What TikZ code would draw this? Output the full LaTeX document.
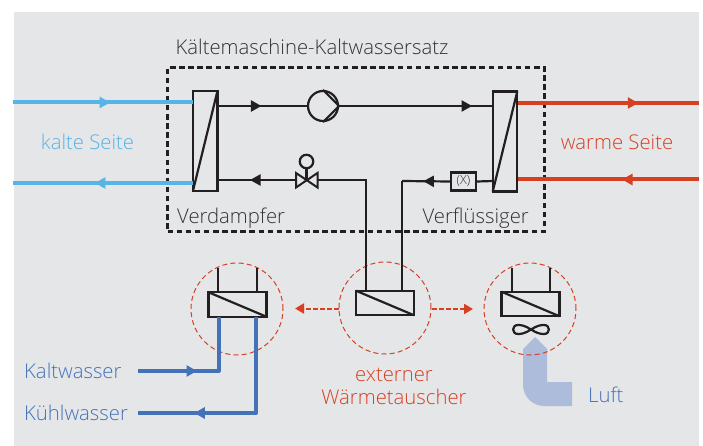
\documentclass[tikz,border=0pt]{standalone}
\usepackage{fontspec}
\setmainfont{Open Sans Light}
\usetikzlibrary{arrows.meta,decorations.markings,calc}
\definecolor{bgc}{HTML}{E5E6E8}
\definecolor{kalt}{HTML}{58B3E6}
\definecolor{warm}{HTML}{D63F22}
\definecolor{wasser}{HTML}{4472B8}
\definecolor{luft}{HTML}{AEBCDC}
\definecolor{ink}{HTML}{231F20}
\definecolor{txt}{HTML}{333333}
\tikzset{
  hx/.style={draw=ink,line width=2.3pt,inner sep=0pt,outer sep=0pt,rectangle},
  hxv/.style={hx,minimum width=24.5pt,minimum height=100pt},
  hxh/.style={hx,minimum width=58pt,minimum height=24.5pt},
  pipe/.style={draw=ink,line width=2.2pt},
  stub/.style={draw=ink,line width=2.2pt},
  diag/.style={draw=ink,line width=2.2pt},
  coldl/.style={draw=kalt,line width=4pt},
  hotl/.style={draw=warm,line width=4pt},
  waterl/.style={draw=wasser,line width=4pt,line join=round},
  redring/.style={circle,draw=warm,line width=1pt,dash pattern=on 5pt off 3.2pt,minimum size=92pt,inner sep=0pt},
  reda/.style={draw=warm,line width=2pt,dash pattern=on 5pt off 2pt},
  tipat/.style 2 args={postaction={decorate,decoration={markings,mark=at position #1pt with {\arrow[#2]{Triangle[length=10.5pt,width=11pt]}}}}},
  tipat/.default={0}{},
  lab/.style={inner sep=0pt,font=\fontsize{20.3}{22}\selectfont},
}
\begin{document}
\begin{tikzpicture}[x=1pt,y=-1pt]
\useasboundingbox (0,0) rectangle (703,446);
\fill[white] (0,0) rectangle (703,446);
\fill[bgc] (14,12) rectangle (699,446);

% air arrow
\fill[luft] (535,337) -- (547,349) -- (547,382) -- (572,382) -- (572,406) -- (544,406)
  .. controls (532,406) and (523,396) .. (523,385) -- (523,349) -- cycle;

% rings
\node[redring] (ringA) at (237,309) {};
\node[redring] (ringB) at (385,308) {};
\node[redring] (ringC) at (530,309) {};

% machine box
\node[draw=ink,line width=2.4pt,dash pattern=on 5.5pt off 3.6pt,minimum width=377pt,minimum height=164pt,inner sep=0pt] (machine) at (356,149.5) {};

% exchangers
\node[hxv] (evap) at (205.2,141) {};
\node[hxv] (cond) at (505,141.5) {};
\node[hxh] (hxA) at (237.5,304.5) {};
\node[hxh] (hxB) at (385,303) {};
\node[hxh] (hxC) at (530.5,304) {};
\draw[diag] (evap.north east) -- (evap.south west);
\draw[diag] (cond.north east) -- (cond.south west);
\draw[diag] (hxA.north west) -- (hxA.south east);
\draw[diag] (hxB.north west) -- (hxB.south east);
\draw[diag] (hxC.north west) -- (hxC.south east);

% pump
\node[circle,draw=ink,line width=2.2pt,minimum size=30pt,inner sep=0pt] (pump) at (323,106) {};
\draw[pipe,line join=miter] (pump.north) -- (pump.east) -- (pump.south);

% top pipe
\coordinate (evT) at (evap.east |- 0,106);
\coordinate (coT) at (cond.west |- 0,106);
\draw[pipe,tipat={44}{}] (evT) -- (pump.west);
\draw[pipe,tipat={133}{}] (pump.east) -- (coT);

% valve
\coordinate (valve) at (306.5,180);
\node[circle,draw=ink,line width=2.2pt,minimum size=13.5pt,inner sep=0pt] (vhead) at (306.5,161.5) {};
\draw[pipe] (vhead.south) -- (valve);
\draw[draw=ink,line width=2pt,line join=miter] (valve) -- (296,173) -- (296,187.5) -- (317.5,173) -- (317.5,187.5) -- cycle;

% expansion unit
\node[draw=ink,line width=2.4pt,inner sep=0pt,minimum width=25pt,minimum height=18pt,text=txt,font=\fontsize{12.5}{13}\selectfont] (xbox) at (463.5,181.5) {(X)};

% lower pipes
\coordinate (evB) at (evap.east |- 0,180);
\coordinate (coB) at (cond.west |- 0,181);
\coordinate (teeL) at (366,180);
\coordinate (teeR) at (402,181);
\draw[pipe,tipat={46}{}] (296,180) -- (evB);
\draw[pipe] (317.5,180) -- (teeL) -- (teeL |- hxB.north);
\draw[pipe] (coB) -- (xbox.east);
\draw[pipe,tipat={26.5}{}] (xbox.west) -- (teeR);
\draw[pipe] (teeR) -- (teeR |- hxB.north);

% stubs
\coordinate (stA1) at (218,268);
\coordinate (stA2) at (257,268);
\coordinate (stC1) at (512,268);
\coordinate (stC2) at (550,268);
\draw[stub] (stA1) -- (stA1 |- hxA.north);
\draw[stub] (stA2) -- (stA2 |- hxA.north);
\draw[stub] (stC1) -- (stC1 |- hxC.north);
\draw[stub] (stC2) -- (stC2 |- hxC.north);

% fan
\draw[ink,line width=2.2pt] (531,329.5) .. controls (537,333.5) and (541,334) .. (544,334)
  .. controls (550.5,334) and (550.5,325) .. (544,325)
  .. controls (541,325) and (537,325.5) .. (531,329.5)
  .. controls (525,333.5) and (521,334) .. (518,334)
  .. controls (511.5,334) and (511.5,325) .. (518,325)
  .. controls (521,325) and (525,325.5) .. (531,329.5);

% cold side
\coordinate (cIn) at (13,102.5);
\coordinate (cOut) at (13,183);
\draw[coldl,tipat={97}{}] (cIn) -- (evap.west |- cIn);
\draw[coldl,tipat={98}{}] (evap.west |- cOut) -- (cOut);
% warm side
\coordinate (hOut) at (699,103);
\coordinate (hIn) at (699,179.5);
\draw[hotl,tipat={120}{}] ($(cond.east |- hOut)+(1,0)$) -- (hOut);
\draw[hotl,tipat={77}{}] (hIn) -- ($(cond.east |- hIn)+(1,0)$);

% water
\coordinate (kwS) at (138,371);
\coordinate (kuS) at (138,413);
\coordinate (kwC) at (218.5,371);
\coordinate (kuC) at (256,413);
\draw[waterl,tipat={59}{}] (kwS) -- (kwC) -- (kwC |- hxA.south);
\draw[waterl,tipat={158}{}] (kuC |- hxA.south) -- (kuC) -- (kuS);

% red dashed arrows
\coordinate (rl) at (295,308.5);
\coordinate (rr) at (473,309);
\draw[reda,-{Triangle[length=9pt,width=10pt]}] (ringB.west |- rl) -- (rl);
\draw[reda,-{Triangle[length=9pt,width=10pt]}] (ringB.east |- rr) -- (rr);

% labels
\node[lab,text=txt] (title) at (312,47) {Kältemaschine-Kaltwassersatz};
\node[lab,text=txt,anchor=west] (tev) at (177,218) {Verdampfer};
\node[lab,text=txt,anchor=east] (tco) at (529,218) {Verflüssiger};
\node[lab,text=kalt] (tkalt) at (87.5,142) {kalte Seite};
\node[lab,text=warm] (twarm) at (617,142) {warme Seite};
\node[lab,text=wasser,anchor=west] (tkw) at (24,371) {Kaltwasser};
\node[lab,text=wasser,anchor=west] (tku) at (24,413) {Kühlwasser};
\node[lab,text=wasser,anchor=west] (tlu) at (588,395) {Luft};
\node[lab,text=warm,align=center,font=\fontsize{20.3}{23}\selectfont] (text) at (394,386) {externer\\Wärmetauscher};
\end{tikzpicture}
\end{document}
